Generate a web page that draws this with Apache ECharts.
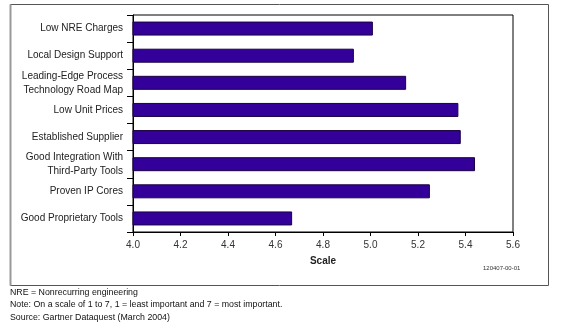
<!DOCTYPE html>
<html>
<head>
<meta charset="utf-8">
<script src="https://cdn.jsdelivr.net/npm/echarts@6/dist/echarts.min.js"></script>
<style>html,body{margin:0;padding:0;background:#fff}#c{width:575px;height:332px}</style>
</head>
<body>
<div id="c"></div>
<script>
var categories = [
  'Low NRE Charges',
  'Local Design Support',
  'Leading-Edge Process\nTechnology Road Map',
  'Low Unit Prices',
  'Established Supplier',
  'Good Integration With\nThird-Party Tools',
  'Proven IP Cores',
  'Good Proprietary Tools'
];
var values = [5.01, 4.93, 5.15, 5.37, 5.38, 5.44, 5.25, 4.67];
var xTicks = [4.0, 4.2, 4.4, 4.6, 4.8, 5.0, 5.2, 5.4, 5.6];
var axisName = 'Scale';
var chartCode = '120407-00-01';
var notes = [
  'NRE = Nonrecurring engineering',
  'Note: On a scale of 1 to 7, 1 = least important and 7 = most important.',
  'Source: Gartner Dataquest (March 2004)'
];

var FONT = 'Liberation Sans, Arial, sans-serif';
var chart = echarts.init(document.getElementById('c'), null, {renderer: 'canvas'});
var graphics = [
  {type: 'rect', shape: {x: 10.5, y: 4.5, width: 538, height: 281}, style: {fill: 'none', stroke: '#555', lineWidth: 1}, z: 0},
  {type: 'line', shape: {x1: 10.5, y1: 4.5, x2: 10.5, y2: 285.5}, style: {stroke: '#999', lineWidth: 2}, z: 1},
  {type: 'text', left: 483, top: 265, style: {text: chartCode, font: '6px ' + FONT, fill: '#333'}}
];
notes.forEach(function (t, i) {
  graphics.push({type: 'text', left: 10, top: 288 + i * 12.5, style: {text: t, font: '8.8px ' + FONT, fill: '#111'}});
});

chart.setOption({
  animation: false,
  backgroundColor: '#fff',
  textStyle: {fontFamily: FONT},
  grid: {left: 133, top: 15, right: 62, bottom: 100, show: true, borderColor: '#000', borderWidth: 1, backgroundColor: '#fff'},
  xAxis: {
    type: 'value', min: 4.0, max: 5.6, interval: 0.2,
    axisLine: {show: true, lineStyle: {color: '#000', width: 1}},
    axisTick: {show: true, length: 4, lineStyle: {color: '#000'}},
    splitLine: {show: false},
    axisLabel: {color: '#333', fontSize: 10, margin: 8, fontFamily: FONT,
      formatter: function (v) { return v.toFixed(1); }},
    name: axisName, nameLocation: 'middle', nameGap: 24,
    nameTextStyle: {fontWeight: 'bold', fontSize: 10, color: '#222', fontFamily: FONT}
  },
  yAxis: {
    type: 'category', data: categories, inverse: true,
    axisLine: {show: true, lineStyle: {color: '#000', width: 1}},
    axisTick: {show: true, length: 6, lineStyle: {color: '#000'}},
    axisLabel: {color: '#222', fontSize: 10, margin: 10, lineHeight: 14, fontFamily: FONT}
  },
  series: [{
    type: 'bar', data: values, barWidth: 14,
    itemStyle: {color: '#330099', borderColor: '#1a0040', borderWidth: 1}
  }],
  graphic: graphics
});
</script>
</body>
</html>
